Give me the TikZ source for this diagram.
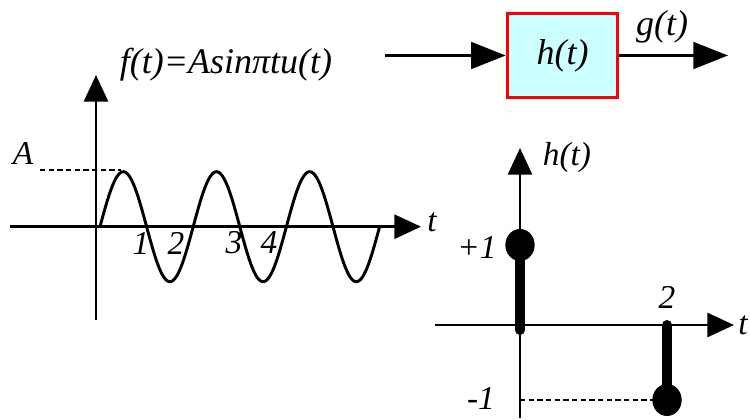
\documentclass[tikz,border=0pt]{standalone}
\usepackage{fontspec}
\setmainfont{Liberation Serif}
\usetikzlibrary{arrows.meta}
\begin{document}
\begin{tikzpicture}[x=0.75pt,y=-0.75pt,
  lbl/.style={font=\fontsize{25}{28}\selectfont\itshape, inner sep=0pt},
  big/.style={font=\fontsize{27}{30}\selectfont\itshape, inner sep=0pt},
  axis/.style={line width=2.2pt, -{Triangle[length=20pt,width=18pt]}},
  blockarrow/.style={line width=2.2pt, -{Triangle[length=26pt,width=20pt]}},
  stem/.style={line width=7.5pt, line cap=round},
  guide/.style={line width=2.2pt, dash pattern=on 4pt off 2.5pt},
  dot/.style={x radius=11pt, y radius=12pt}]
\useasboundingbox (0,0) rectangle (750,420);
\fill[white] (0,0) rectangle (750,420);
% block
\node[draw=red, line width=2.2pt, fill={rgb,255:red,204;green,255;blue,255},
      minimum width=83pt, minimum height=63pt, inner sep=0pt, big] (box) at (562.5,55.5) {h(t)};
\coordinate (in) at (385,55.5);
\coordinate (out) at (728,55.5);
\draw[blockarrow] (in) -- (box.west);
\draw[blockarrow] (box.east) -- (out);
\node[big] (g) at (662,27) {g(t)};
% left graph
\node[big] (title) at (226,65) {f(t)=Asinπtu(t)};
\coordinate (ly0) at (96,320);
\coordinate (ly1) at (96,75);
\coordinate (lx0) at (10,226.7);
\coordinate (lx1) at (421,226.7);
\draw[axis] (ly0) -- (ly1);
\draw[axis] (lx0) -- (lx1);
\node[lbl] (lt) at (432,222) {t};
\node[lbl] (lA) at (23,153) {A};
\coordinate (pk) at (121,170);
\coordinate (aL) at (40,170);
\draw[guide] (aL) -- (pk);
\draw[line width=2.2pt, line join=round] plot[variable=\s, domain=0:6, samples=241]
  ({100+46.6*\s}, {226.7-55*sin(180*\s)});
\node[lbl] (n1) at (141,243) {1};
\node[lbl] (n2) at (176,243) {2};
\node[lbl] (n3) at (234,243) {3};
\node[lbl] (n4) at (269,243) {4};
% right graph
\coordinate (ry0) at (520,418);
\coordinate (ry1) at (520,148);
\coordinate (rx0) at (435,325);
\coordinate (rx1) at (734,325);
\draw[axis] (ry0) -- (ry1);
\draw[axis] (rx0) -- (rx1);
\node[lbl] (rh) at (567,157) {h(t)};
\node[lbl] (rt) at (743,325) {t};
\coordinate (d1) at (520,245);
\coordinate (s1) at (520,330);
\coordinate (d2) at (667,400);
\coordinate (s2) at (667,325);
\draw[stem] (s1) -- (d1);
\draw[stem] (s2) -- (d2);
\fill (d1) ellipse [dot];
\fill (d2) ellipse [dot];
\coordinate (m1) at (520,400);
\draw[guide] (m1) -- (d2);
\node[lbl] (p1) at (477,247) {+1};
\node[lbl] (mm1) at (481,398) {-1};
\node[lbl] (two) at (667,297) {2};
\end{tikzpicture}
\end{document}
